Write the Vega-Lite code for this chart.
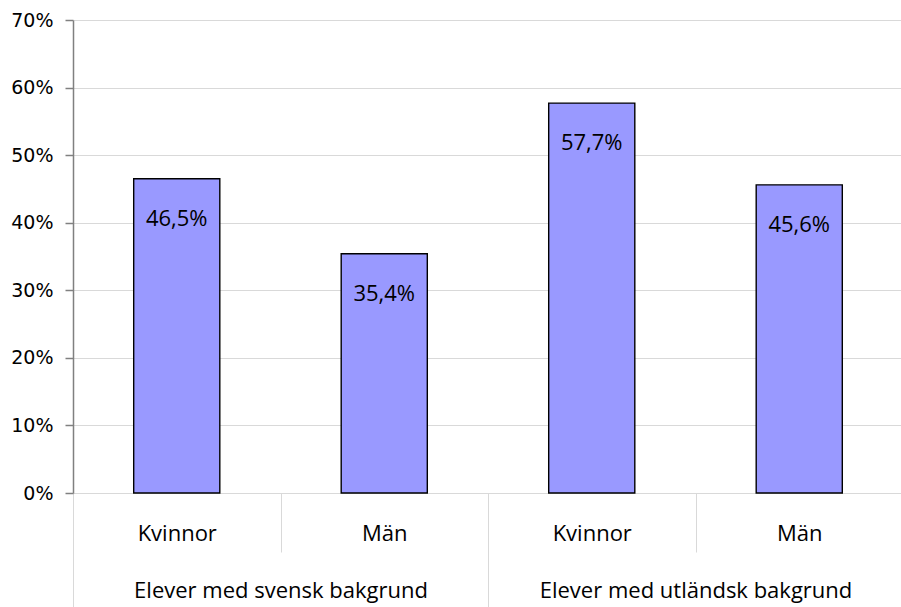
{
  "$schema": "https://vega.github.io/schema/vega-lite/v6.json",
  "width": 830,
  "height": 473,
  "autosize": "none",
  "padding": {"left": 73, "top": 20, "right": 0, "bottom": 114},
  "config": {
    "locale": {"number": {"decimal": ",", "thousands": " ", "grouping": [3], "currency": ["", " kr"]}},
    "view": {"stroke": null},
    "axis": {"labelColor": "#000000"}
  },
  "data": {
    "values": [
      {"id": "Kvinnor|Elever med svensk bakgrund", "bakgrund": "Elever med svensk bakgrund", "kon": "Kvinnor", "andel": 0.465},
      {"id": "Män|Elever med svensk bakgrund", "bakgrund": "Elever med svensk bakgrund", "kon": "Män", "andel": 0.354},
      {"id": "Kvinnor|Elever med utländsk bakgrund", "bakgrund": "Elever med utländsk bakgrund", "kon": "Kvinnor", "andel": 0.577},
      {"id": "Män|Elever med utländsk bakgrund", "bakgrund": "Elever med utländsk bakgrund", "kon": "Män", "andel": 0.456}
    ]
  },
  "resolve": {"scale": {"x": "independent"}, "axis": {"x": "independent"}},
  "layer": [
    {
      "mark": {"type": "bar", "opacity": 0},
      "encoding": {
        "x": {
          "field": "bakgrund", "type": "nominal", "sort": null,
          "scale": {"paddingInner": 0, "paddingOuter": 0},
          "axis": {
            "orient": "bottom", "title": null, "domain": false,
            "tickBand": "extent", "tickSize": 114, "tickColor": "#d9d9d9", "tickWidth": 1,
            "labelExpr": "isString(datum.value) ? datum.value : ''",
            "labelFont": "Open Sans", "labelFontSize": 22, "labelPadding": -27, "labelAngle": 0, "labelLimit": 0
          }
        }
      }
    },
    {
      "mark": {"type": "bar", "opacity": 0},
      "encoding": {
        "x": {
          "field": "id", "type": "nominal", "sort": null,
          "scale": {"paddingInner": 0, "paddingOuter": 0},
          "axis": {
            "orient": "bottom", "title": null,
            "domain": true, "domainColor": "#d9d9d9", "domainWidth": 1,
            "tickBand": "extent", "tickSize": 59, "tickColor": "#d9d9d9", "tickWidth": 1,
            "labelExpr": "isString(datum.value) ? split(datum.value, '|')[0] : ''",
            "labelFont": "Open Sans", "labelFontSize": 22, "labelPadding": -29, "labelAngle": 0, "labelLimit": 0
          }
        }
      }
    },
    {
      "mark": {"type": "bar", "fill": "#9999ff", "stroke": "#000000", "strokeWidth": 1.4},
      "encoding": {
        "x": {
          "field": "id", "type": "nominal", "sort": null,
          "scale": {"paddingInner": 0.585, "paddingOuter": 0.2925},
          "axis": null
        },
        "y": {
          "field": "andel", "type": "quantitative",
          "scale": {"domain": [0, 0.7], "nice": false},
          "axis": {
            "title": null, "format": ".0%", "values": [0, 0.1, 0.2, 0.3, 0.4, 0.5, 0.6, 0.7],
            "grid": true, "gridColor": "#d9d9d9", "gridWidth": 1,
            "domainColor": "#808080", "domainWidth": 1.5,
            "tickColor": "#808080", "tickSize": 8, "tickWidth": 1.5,
            "labelFont": "DejaVu Sans", "labelFontSize": 19, "labelPadding": 12
          }
        }
      }
    },
    {
      "mark": {"type": "text", "font": "Open Sans", "fontSize": 22, "baseline": "alphabetic", "dy": 47, "color": "#000000"},
      "encoding": {
        "x": {
          "field": "id", "type": "nominal", "sort": null,
          "scale": {"paddingInner": 0.585, "paddingOuter": 0.2925},
          "axis": null
        },
        "y": {"field": "andel", "type": "quantitative"},
        "text": {"field": "andel", "type": "quantitative", "format": ".1%"}
      }
    }
  ]
}
